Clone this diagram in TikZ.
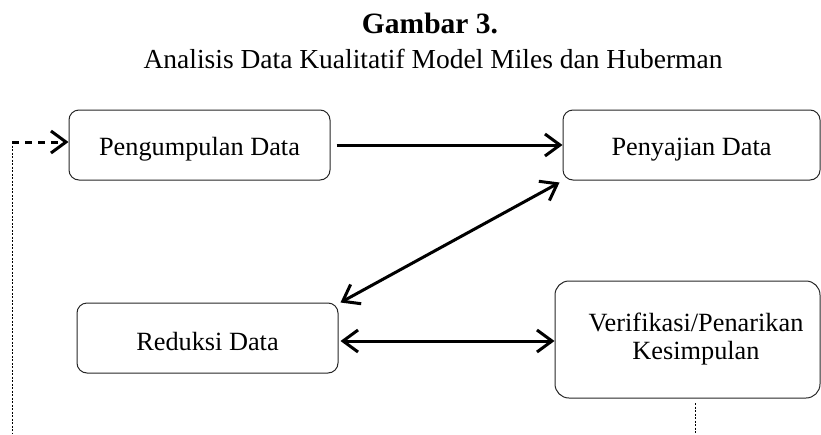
\documentclass[tikz,border=0pt]{standalone}
\usepackage{fontspec}
\setmainfont{Liberation Serif}
\usetikzlibrary{arrows.meta}
\begin{document}
\begin{tikzpicture}[x=1pt,y=-1pt,
 box/.style={draw=black!85, line width=1pt, rounded corners=10pt, align=center,
   font=\fontsize{26.3}{28}\selectfont, inner sep=0pt},
 onebox/.style={box, text height=20pt, text depth=0pt},
 arr/.style={line width=3pt, -{Straight Barb[length=15pt,width=22pt,line width=3pt]}},
 darr/.style={line width=3pt, {Straight Barb[length=15pt,width=22pt,line width=3pt]}-{Straight Barb[length=15pt,width=22pt,line width=3pt]}},
 dotline/.style={line width=0.9pt, dash pattern=on 2pt off 1.5pt}]
\useasboundingbox (0,0) rectangle (821,434);
\node[font=\fontsize{29.5}{30}\selectfont\bfseries, anchor=base, inner sep=0pt] (t1) at (430,33) {Gambar 3.};
\node[font=\fontsize{27.5}{28}\selectfont, anchor=base, inner sep=0pt] (t2) at (433,68) {Analisis Data Kualitatif Model Miles dan Huberman};

\node[onebox, minimum width=261pt, minimum height=70pt] (pgm) at (199.5,145) {Pengumpulan Data};
\node[onebox, minimum width=257pt, minimum height=70pt] (pen) at (691.5,145) {Penyajian Data};
\node[box, text height=24pt, text depth=0pt, minimum width=261pt, minimum height=70pt] (red) at (207.5,338) {Reduksi Data};
\node[box, rounded corners=14pt, minimum width=265pt, minimum height=117pt] (ver) at (687.5,339.5)
  {\hspace*{17pt}Verifikasi/Penarikan\\\hspace*{17pt}Kesimpulan\vphantom{g}\rule[-2.5pt]{0pt}{0pt}};

\draw[arr] ([xshift=6pt]pgm.east) -- (pen.west |- pgm.east);
\draw[darr] ([shift={(-3,2)}]pen.south west) -- ([shift={(2,0)}]red.north east);
\draw[darr] ([shift={(2,3)}]red.east) -- ([yshift=-3pt]ver.west |- red.east);

\coordinate (dl) at (12,142);
\coordinate (db) at (12,434);
\draw[arr, dash pattern=on 7pt off 6pt] (dl) -- (pgm.west |- dl);
\draw[dotline] (dl) -- (db);

\coordinate (vt) at (695,403);
\coordinate (vb) at (695,434);
\draw[dotline] (vt) -- (vb);
\end{tikzpicture}
\end{document}
